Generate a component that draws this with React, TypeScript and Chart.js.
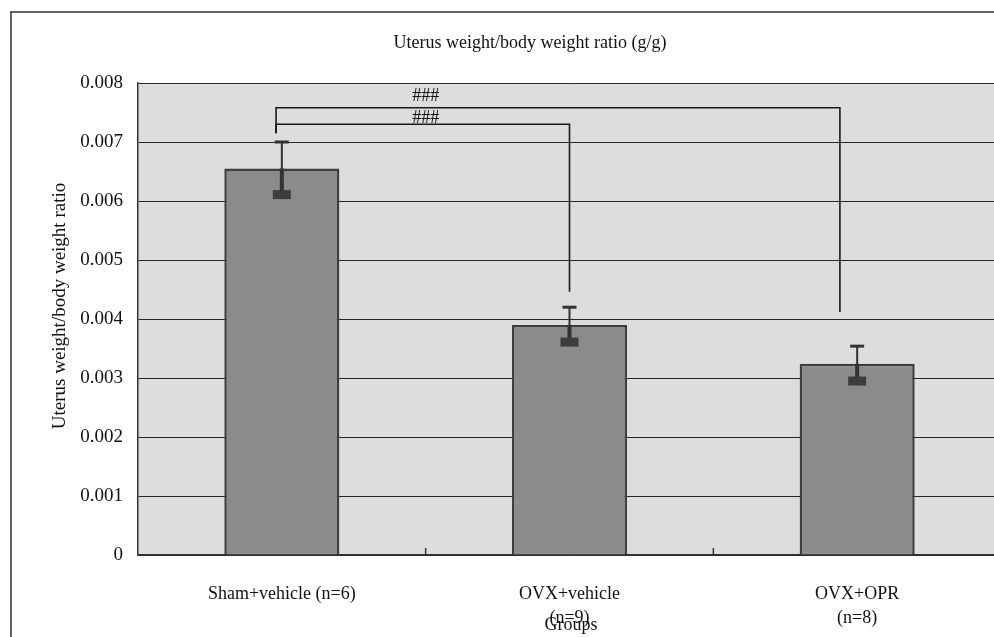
import React, { useEffect, useRef } from "react";
import { Chart, registerables } from "chart.js";

Chart.register(...registerables);

const categories: (string | string[])[] = [
  "Sham+vehicle (n=6)",
  ["OVX+vehicle", "(n=9)"],
  ["OVX+OPR", "(n=8)"],
];
const means = [0.00655, 0.0039, 0.00324];
const sems = [0.00045, 0.0003, 0.0003];
const yTicks = [0, 0.001, 0.002, 0.003, 0.004, 0.005, 0.006, 0.007, 0.008];

// significance brackets (x in category index units, y in data units)
const brackets = [
  { from: -0.02, to: 1.94, y: 0.00758, leftDrop: 0.00715, rightDrop: 0.00412, label: "###", labelX: 0.5, labelY: 0.00778 },
  { from: -0.02, to: 1.0, y: 0.0073, leftDrop: 0.00715, rightDrop: 0.00446, label: "###", labelX: 0.5, labelY: 0.00741 },
];

const chartTitle = "Uterus weight/body weight ratio (g/g)";
const yTitle = "Uterus weight/body weight ratio";
const xTitle = "Groups";

const FONT = '"Liberation Serif", "Times New Roman", serif';
const TEXT = "#111111";

const decorPlugin = {
  id: "decor",
  beforeDraw(chart: any) {
    const { ctx, chartArea, width, height } = chart;
    ctx.save();
    ctx.fillStyle = "#ffffff";
    ctx.fillRect(0, 0, width, height);
    // outer frame
    ctx.strokeStyle = "#333";
    ctx.lineWidth = 1.5;
    ctx.beginPath();
    ctx.moveTo(10, 12);
    ctx.lineTo(width, 12);
    ctx.moveTo(11, 12);
    ctx.lineTo(11, height);
    ctx.stroke();
    // plot background
    ctx.fillStyle = "#dddddd";
    ctx.fillRect(chartArea.left, chartArea.top, chartArea.right - chartArea.left, chartArea.bottom - chartArea.top);
    ctx.restore();
  },
  afterDatasetsDraw(chart: any) {
    const { ctx, chartArea } = chart;
    const xs = chart.scales.x;
    const ys = chart.scales.y;
    ctx.save();
    // error bars
    means.forEach((m, i) => {
      const x = xs.getPixelForValue(i);
      const top = ys.getPixelForValue(m + sems[i]);
      const bot = ys.getPixelForValue(m - sems[i]);
      const mid = ys.getPixelForValue(m);
      ctx.strokeStyle = "#333";
      ctx.lineWidth = 2;
      ctx.beginPath();
      ctx.moveTo(x, top);
      ctx.lineTo(x, bot);
      ctx.stroke();
      ctx.lineWidth = 4;
      ctx.beginPath();
      ctx.moveTo(x, mid);
      ctx.lineTo(x, bot);
      ctx.stroke();
      ctx.lineWidth = 3;
      ctx.beginPath();
      ctx.moveTo(x - 7, top);
      ctx.lineTo(x + 7, top);
      ctx.stroke();
      ctx.fillStyle = "#3d3d3d";
      ctx.fillRect(x - 9, bot - 5, 18, 9);
    });
    // brackets
    ctx.strokeStyle = "#1a1a1a";
    ctx.lineWidth = 1.6;
    brackets.forEach((b) => {
      const x1 = xs.getPixelForValue(b.from);
      const x2 = xs.getPixelForValue(b.to);
      const y = ys.getPixelForValue(b.y);
      ctx.beginPath();
      ctx.moveTo(x1, ys.getPixelForValue(b.leftDrop));
      ctx.lineTo(x1, y);
      ctx.lineTo(x2, y);
      ctx.lineTo(x2, ys.getPixelForValue(b.rightDrop));
      ctx.stroke();
      ctx.fillStyle = TEXT;
      ctx.font = `18px ${FONT}`;
      ctx.textAlign = "center";
      ctx.textBaseline = "middle";
      ctx.fillText(b.label, xs.getPixelForValue(b.labelX), ys.getPixelForValue(b.labelY));
    });
    // inside tick marks at category boundaries
    ctx.strokeStyle = "#333";
    ctx.lineWidth = 1.5;
    for (let i = 0; i < categories.length - 1; i++) {
      const bx = (xs.getPixelForValue(i) + xs.getPixelForValue(i + 1)) / 2;
      ctx.beginPath();
      ctx.moveTo(bx, chartArea.bottom);
      ctx.lineTo(bx, chartArea.bottom - 7);
      ctx.stroke();
    }
    ctx.restore();
  },
  afterDraw(chart: any) {
    const { ctx } = chart;
    ctx.save();
    ctx.fillStyle = TEXT;
    ctx.textAlign = "center";
    ctx.textBaseline = "middle";
    ctx.font = `18px ${FONT}`;
    ctx.fillText(chartTitle, 530, 43);
    ctx.fillText(xTitle, 571, 625);
    ctx.translate(60, 306);
    ctx.rotate(-Math.PI / 2);
    ctx.font = `19px ${FONT}`;
    ctx.fillText(yTitle, 0, 0);
    ctx.restore();
  },
};

export default function App() {
  const ref = useRef<HTMLCanvasElement | null>(null);
  useEffect(() => {
    if (!ref.current) return;
    const chart = new Chart(ref.current, {
      type: "bar",
      data: {
        labels: categories as any,
        datasets: [
          {
            data: means,
            backgroundColor: "#8b8b8b",
            borderColor: "#3e3e3e",
            borderWidth: 2.5,
            barPercentage: 0.4,
            categoryPercentage: 1,
          },
        ],
      },
      options: {
        animation: false,
        responsive: false,
        devicePixelRatio: 1,
        layout: { padding: { left: 20, top: 83, right: 0, bottom: 0 } },
        plugins: {
          legend: { display: false },
          title: { display: false },
          tooltip: { enabled: false },
        },
        scales: {
          x: {
            type: "category",
            offset: true,
            grid: { display: false },
            border: { display: true, color: "#333", width: 1.5 },
            ticks: {
              color: TEXT,
              font: { family: FONT, size: 18, lineHeight: 1.35 },
              padding: 19,
              maxRotation: 0,
              autoSkip: false,
            },
            afterFit(scale: any) {
              scale.height = 82;
            },
          },
          y: {
            min: 0,
            max: 0.008,
            afterBuildTicks(scale: any) {
              scale.ticks = yTicks.map((v) => ({ value: v }));
            },
            grid: { color: "#262626", lineWidth: 1, drawTicks: false },
            border: { display: true, color: "#333", width: 1.5 },
            ticks: {
              color: TEXT,
              font: { family: FONT, size: 19 },
              padding: 15,
              callback: (v: any) => (Number(v) === 0 ? "0" : Number(v).toFixed(3)),
            },
            afterFit(scale: any) {
              scale.width = 118;
            },
          },
        },
      },
      plugins: [decorPlugin],
    });
    return () => chart.destroy();
  }, []);
  return (
    <div
      style={{
        position: "fixed",
        left: 0,
        top: 0,
        width: 994,
        height: 637,
        overflow: "hidden",
        background: "#fff",
      }}
    >
      <canvas ref={ref} width={1001} height={637} style={{ width: 1001, height: 637, display: "block" }} />
    </div>
  );
}
